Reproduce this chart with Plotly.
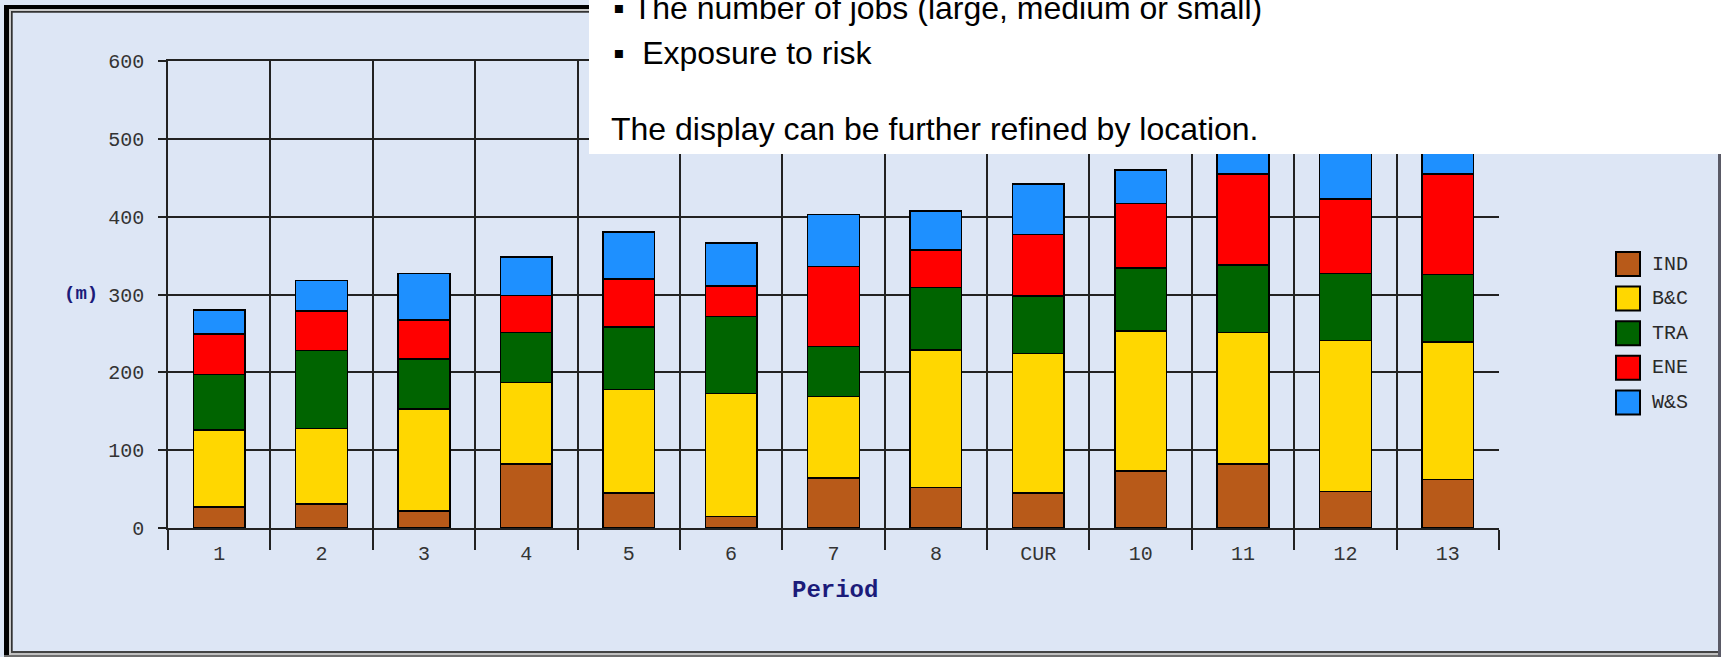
import plotly.graph_objects as go

# ---------------- data ----------------
periods = ["1", "2", "3", "4", "5", "6", "7", "8", "CUR", "10", "11", "12", "13"]
ind = [27, 31, 22, 82, 45, 15, 64, 52, 45, 73, 82, 47, 62]
bandc = [99, 97, 131, 105, 133, 158, 105, 177, 179, 180, 169, 194, 177]
tra = [71, 100, 64, 64, 80, 99, 64, 80, 74, 81, 87, 86, 87]
ene = [52, 51, 50, 48, 62, 39, 103, 48, 79, 83, 117, 96, 129]
ws = [31, 39, 60, 49, 60, 55, 67, 50, 65, 43, 45, 82, 45]

series_names = ["IND", "B&C", "TRA", "ENE", "W&S"]
series_values = [ind, bandc, tra, ene, ws]
series_colors = ["#B85A19", "#FFD700", "#006400", "#FF0000", "#1E90FF"]

y_ticks = [0, 100, 200, 300, 400, 500, 600]
note_lines = [
    "\u25aa The number of jobs (large, medium or small)",
    "\u25aa\u00a0 Exposure to risk",
    "The display can be further refined by location.",
]

# ---------------- geometry ----------------
W, H = 1721, 657
L, R, T, B = 168, 222, 61, 129
PW, PH = W - L - R, H - T - B
BG = "#DDE6F5"
INK = "#222222"
MONO = "Courier New, Liberation Mono, monospace"


def px(x):
    return (x - L) / PW


def py(y):
    return (H - B - y) / PH


fig = go.Figure()
for name, vals, col in zip(series_names, series_values, series_colors):
    fig.add_trace(go.Bar(
        x=periods, y=vals, name=name,
        marker=dict(color=col, line=dict(color="#000000", width=1.5)),
        showlegend=False,
    ))

shapes = []
annotations = []

# custom legend (large swatches)
for i, (name, col) in enumerate(zip(series_names, series_colors)):
    cy = 264 + i * 34.6
    shapes.append(dict(type="rect", xref="paper", yref="paper",
                       x0=px(1616), x1=px(1640), y0=py(cy - 12), y1=py(cy + 12),
                       fillcolor=col, line=dict(color="#000000", width=2)))
    annotations.append(dict(xref="paper", yref="paper", x=px(1650), y=py(cy),
                            xanchor="left", yanchor="middle", showarrow=False,
                            text=name, font=dict(family=MONO, size=20, color="#2a2a2a")))

# y-axis unit label
annotations.append(dict(xref="paper", yref="paper", x=px(81), y=py(294),
                        xanchor="center", yanchor="middle", showarrow=False,
                        text="<b>(m)</b>", font=dict(family=MONO, size=19, color="#1B1B7A")))
# x-axis title
annotations.append(dict(xref="paper", yref="paper", x=px(835), y=py(590),
                        xanchor="center", yanchor="middle", showarrow=False,
                        text="<b>Period</b>", font=dict(family=MONO, size=24, color="#1B1B7A")))

# window frame
frame = [
    (4, 5, 9, H, "#000000"),          # left thick black
    (4, 5, W, 9, "#000000"),          # top thick black
    (9, 9, 11, H, "#C8C8C8"),
    (9, 9, W, 11, "#C8C8C8"),
    (11, 11, 12.7, 651, "#333333"),
    (11, 11, 1718, 12.7, "#333333"),
    (11, 651, W, 653, "#444444"),      # bottom lines
    (11, 653, W, 655, "#C0C0C0"),
    (4, 655, W, H, "#6E6E6E"),
    (1718, 9, W, H, "#5A5A66"),       # right edge
]
for x0, y0, x1, y1, c in frame:
    shapes.append(dict(type="rect", xref="paper", yref="paper", layer="above",
                       x0=px(x0), x1=px(x1), y0=py(y1), y1=py(y0),
                       fillcolor=c, line=dict(width=0)))

# white overlay text box
shapes.append(dict(type="rect", xref="paper", yref="paper", layer="above",
                   x0=px(589), x1=px(W + 5), y0=py(154), y1=py(-5),
                   fillcolor="#FFFFFF", line=dict(width=0)))
for txt, x0, cy in zip(note_lines, [611, 611, 609], [8, 52.5, 129]):
    annotations.append(dict(xref="paper", yref="paper", x=px(x0), y=py(cy),
                            xanchor="left", yanchor="middle", showarrow=False,
                            text=txt, font=dict(family="Liberation Sans, Arial, sans-serif",
                                                size=32, color="#000000")))

fig.update_layout(
    width=W, height=H,
    margin=dict(l=L, r=R, t=T, b=B, pad=0),
    paper_bgcolor=BG, plot_bgcolor=BG,
    barmode="stack", bargap=0.495,
    shapes=shapes, annotations=annotations,
    showlegend=False,
    xaxis=dict(type="category", tickson="boundaries", ticks="outside",
               ticklen=20, tickwidth=1.5, tickcolor=INK,
               showgrid=True, gridcolor=INK, gridwidth=1.5,
               showline=True, linecolor=INK, linewidth=1.5, mirror=True,
               ticklabelstandoff=6,
               tickfont=dict(family=MONO, size=20, color="#333333")),
    yaxis=dict(range=[0, 600], tickvals=y_ticks, ticks="outside",
               ticklen=8, tickwidth=1.5, tickcolor=INK,
               showgrid=True, gridcolor=INK, gridwidth=1.5, zeroline=False,
               showline=True, linecolor=INK, linewidth=1.5,
               ticklabelstandoff=10,
               tickfont=dict(family=MONO, size=20, color="#333333")),
    yaxis2=dict(range=[0, 600], tickvals=y_ticks, ticks="outside",
                overlaying="y", side="right",
                ticklen=8, tickwidth=1.5, tickcolor=INK,
                showgrid=False, zeroline=False,
                showline=True, linecolor=INK, linewidth=1.5,
                ticklabelstandoff=8,
                tickfont=dict(family=MONO, size=20, color="#333333")),
)

fig.write_html("out.html", config={"displayModeBar": False},
               post_script="document.body.style.margin='0';")
